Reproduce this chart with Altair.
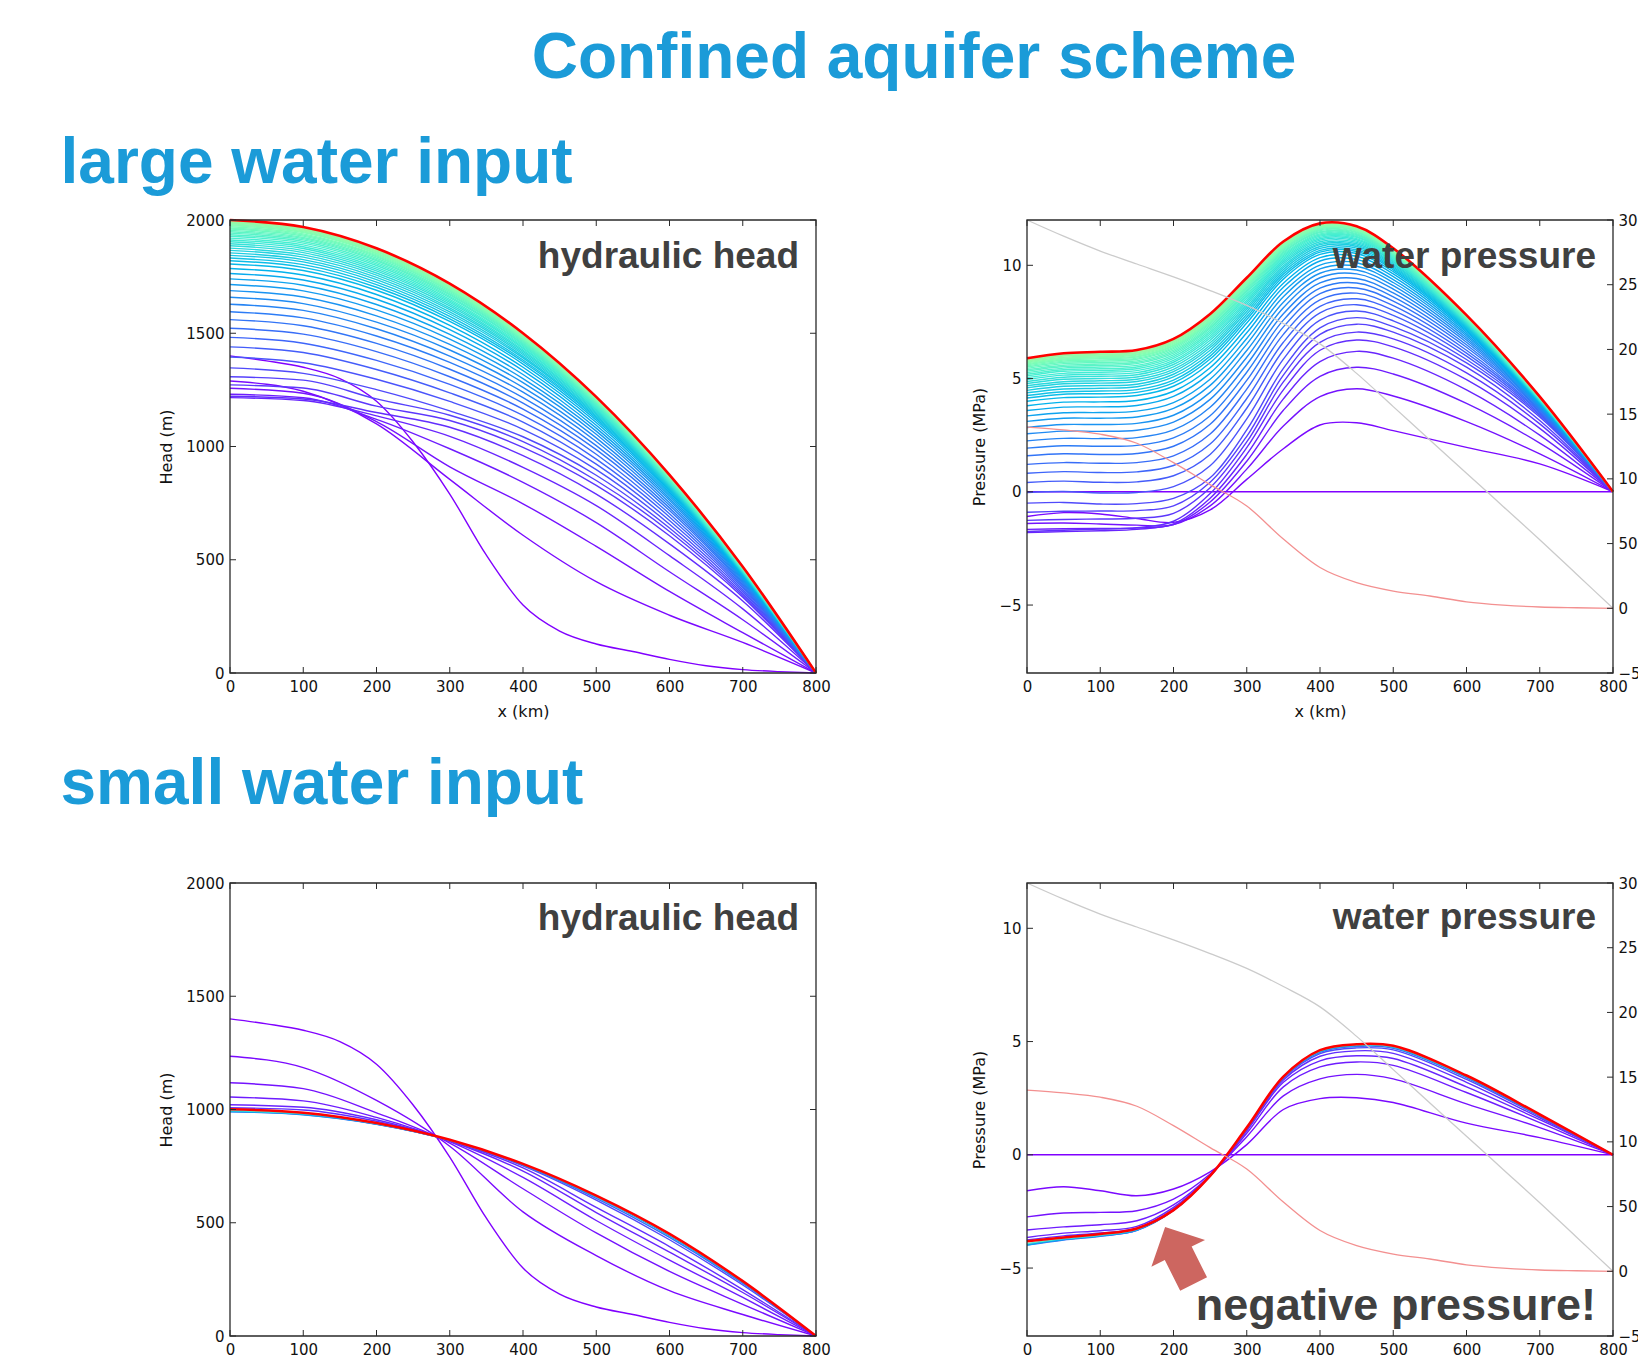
import altair as alt
import pandas as pd

# ---------------------------------------------------------------- data
HEAD_X = [0, 100, 200, 300, 400, 500, 600, 700, 800]
BED_X = [0, 50, 100, 150, 200, 250, 300, 350, 400, 450, 500, 550, 600, 650, 700, 750, 800]
PRES_X = [0, 50, 100, 150, 200, 250, 300, 350, 400, 450, 500, 600, 700, 800]

X_DOMAIN = [0, 800]
HEAD_DOMAIN = [0, 2000]
PRES_DOMAIN = [-8, 12]
ELEV_DOMAIN = [-500, 3000]
TICK_X = [0, 100, 200, 300, 400, 500, 600, 700, 800]
TICK_HEAD = [0, 500, 1000, 1500, 2000]
TICK_PRES = [-5, 0, 5, 10]
TICK_ELEV = [-500, 0, 500, 1000, 1500, 2000, 2500, 3000]

# initial head (= bed elevation) shown in the head panels
BED_HEAD = [1400, 1378, 1350, 1300, 1200, 1020, 790, 520, 300, 185, 128, 95, 60, 32, 15, 6, 0]
# bed and surface elevation (m, right axis of the pressure panels)
BED_ELEV = [1400, 1378, 1345, 1275, 1125, 955, 790, 535, 315, 198, 133, 95, 50, 25, 10, 4, 0]
SURF_ELEV = [3000, 2875, 2760, 2660, 2561, 2455, 2340, 2200, 2043, 1815, 1558, 1300, 1044, 787, 530, 265, 0]

# time-step index of each curve (colour)
K_LARGE = [1, 2, 3, 4, 5, 6, 7, 8, 9, 10, 11, 12, 13, 14, 15, 16, 17, 18, 19, 20,
           21, 22, 23, 24, 25, 26, 27, 28, 29, 30, 31, 32, 33, 34, 35, 36, 37, 38, 39, 40,
           41, 42, 43, 44, 45, 46, 47, 48, 49]
K_SMALL = [1, 2, 3, 4, 5, 8, 12, 20, 35]

# ---- large water input: hydraulic head (m) at HEAD_X
HEAD_LARGE = [
    [1289, 1244, 1100, 855, 608, 403, 255, 135, 0],
    [1257, 1235, 1110, 910, 747, 559, 360, 178, 0],
    [1231, 1215, 1120, 990, 842, 664, 447, 235, 0],
    [1216, 1203, 1135, 1045, 908, 739, 518, 283, 0],
    [1222, 1210, 1150, 1085, 960, 790, 570, 318, 0],
    [1272, 1258, 1178, 1115, 996, 828, 606, 335, 0],
    [1308, 1293, 1210, 1138, 1022, 850, 625, 343, 0],
    [1347, 1323, 1251, 1157, 1043, 873, 640, 351, 0],
    [1395, 1370, 1297, 1199, 1076, 898, 657, 360, 0],
    [1440, 1415, 1340, 1237, 1108, 922, 673, 368, 0],
    [1482, 1456, 1380, 1274, 1137, 944, 689, 376, 0],
    [1522, 1496, 1419, 1308, 1165, 966, 703, 383, 0],
    [1560, 1533, 1455, 1341, 1192, 986, 717, 390, 0],
    [1595, 1568, 1488, 1371, 1216, 1004, 729, 396, 0],
    [1628, 1601, 1520, 1399, 1240, 1022, 741, 402, 0],
    [1659, 1631, 1549, 1426, 1261, 1038, 752, 408, 0],
    [1688, 1660, 1577, 1451, 1282, 1054, 763, 413, 0],
    [1715, 1687, 1603, 1474, 1300, 1068, 772, 418, 0],
    [1740, 1712, 1627, 1495, 1318, 1081, 781, 422, 0],
    [1764, 1735, 1650, 1516, 1335, 1094, 790, 427, 0],
    [1786, 1757, 1671, 1535, 1350, 1106, 798, 430, 0],
    [1806, 1777, 1690, 1552, 1364, 1116, 805, 434, 0],
    [1820, 1791, 1703, 1564, 1374, 1124, 810, 437, 0],
    [1832, 1803, 1715, 1575, 1382, 1130, 815, 439, 0],
    [1844, 1815, 1726, 1585, 1391, 1136, 819, 441, 0],
    [1855, 1825, 1737, 1594, 1398, 1142, 823, 443, 0],
    [1866, 1836, 1747, 1604, 1406, 1148, 827, 445, 0],
    [1876, 1846, 1757, 1612, 1413, 1153, 830, 447, 0],
    [1886, 1856, 1766, 1621, 1420, 1159, 834, 448, 0],
    [1895, 1865, 1775, 1629, 1426, 1163, 837, 450, 0],
    [1904, 1874, 1783, 1636, 1433, 1168, 840, 452, 0],
    [1912, 1882, 1791, 1643, 1438, 1172, 843, 453, 0],
    [1920, 1890, 1799, 1650, 1444, 1177, 846, 455, 0],
    [1928, 1898, 1806, 1657, 1450, 1181, 849, 456, 0],
    [1935, 1905, 1813, 1663, 1454, 1185, 852, 457, 0],
    [1942, 1912, 1820, 1669, 1459, 1188, 854, 459, 0],
    [1948, 1918, 1825, 1674, 1464, 1191, 856, 460, 0],
    [1954, 1923, 1831, 1679, 1468, 1195, 858, 461, 0],
    [1960, 1929, 1837, 1685, 1472, 1198, 861, 462, 0],
    [1965, 1934, 1842, 1689, 1475, 1200, 862, 463, 0],
    [1970, 1939, 1846, 1693, 1479, 1203, 864, 464, 0],
    [1975, 1944, 1851, 1697, 1482, 1206, 866, 464, 0],
    [1979, 1948, 1855, 1701, 1485, 1208, 867, 465, 0],
    [1983, 1952, 1859, 1704, 1488, 1210, 869, 466, 0],
    [1987, 1956, 1863, 1708, 1491, 1212, 870, 467, 0],
    [1990, 1959, 1865, 1710, 1493, 1214, 871, 467, 0],
    [1993, 1962, 1868, 1713, 1495, 1215, 872, 468, 0],
    [1996, 1965, 1871, 1716, 1497, 1217, 874, 468, 0],
    [1998, 1967, 1873, 1717, 1499, 1218, 874, 469, 0],
]
HEAD_LARGE_FINAL = [2000, 1969, 1875, 1719, 1500, 1219, 875, 469, 0]

# ---- large water input: water pressure (MPa) at PRES_X
PRES_INIT = [0, 0, 0, 0, 0, 0, 0, 0, 0, 0, 0, 0, 0, 0]
PRES_LARGE = [
    [-1.09, -0.92, -0.98, -1.18, -1.35, -0.80, 0.55, 1.90, 2.95, 3.05, 2.70, 1.96, 1.23, 0],
    [-1.40, -1.38, -1.42, -1.47, -1.45, -0.62, 1.00, 2.90, 4.20, 4.55, 4.23, 3.10, 1.67, 0],
    [-1.66, -1.63, -1.62, -1.60, -1.45, -0.45, 1.35, 3.60, 5.10, 5.50, 5.20, 3.90, 2.15, 0],
    [-1.80, -1.76, -1.72, -1.66, -1.42, -0.28, 1.65, 4.10, 5.75, 6.20, 5.90, 4.50, 2.50, 0],
    [-1.75, -1.70, -1.64, -1.58, -1.30, -0.08, 1.95, 4.50, 6.25, 6.70, 6.40, 4.95, 2.80, 0],
    [-1.26, -1.22, -1.20, -1.17, -0.95, 0.18, 2.20, 4.85, 6.60, 7.05, 6.75, 5.25, 3.00, 0],
    [-0.90, -0.86, -0.85, -0.83, -0.62, 0.42, 2.45, 5.15, 6.95, 7.40, 7.05, 5.50, 3.15, 0],
    [-0.50, -0.47, -0.54, -0.52, -0.29, 0.62, 2.73, 5.45, 7.24, 7.69, 7.29, 5.69, 3.30, 0],
    [-0.03, 0.01, -0.05, -0.03, 0.23, 1.15, 3.22, 5.86, 7.58, 7.98, 7.55, 5.84, 3.37, 0],
    [0.41, 0.47, 0.42, 0.44, 0.71, 1.65, 3.69, 6.25, 7.90, 8.26, 7.79, 5.99, 3.43, 0],
    [0.82, 0.89, 0.85, 0.88, 1.16, 2.11, 4.12, 6.60, 8.19, 8.52, 8.01, 6.12, 3.49, 0],
    [1.21, 1.29, 1.26, 1.29, 1.59, 2.55, 4.53, 6.95, 8.47, 8.77, 8.22, 6.25, 3.54, 0],
    [1.59, 1.68, 1.65, 1.69, 2.01, 2.98, 4.92, 7.28, 8.75, 9.00, 8.42, 6.38, 3.60, 0],
    [1.93, 2.03, 2.01, 2.05, 2.38, 3.36, 5.28, 7.58, 8.99, 9.22, 8.61, 6.49, 3.64, 0],
    [2.25, 2.36, 2.35, 2.39, 2.73, 3.73, 5.62, 7.86, 9.22, 9.42, 8.78, 6.60, 3.69, 0],
    [2.56, 2.68, 2.67, 2.72, 3.08, 4.08, 5.94, 8.13, 9.45, 9.62, 8.95, 6.70, 3.73, 0],
    [2.84, 2.97, 2.97, 3.02, 3.38, 4.39, 6.24, 8.37, 9.65, 9.79, 9.10, 6.79, 3.77, 0],
    [3.11, 3.25, 3.25, 3.30, 3.68, 4.70, 6.52, 8.61, 9.84, 9.96, 9.24, 6.88, 3.81, 0],
    [3.35, 3.49, 3.50, 3.56, 3.94, 4.97, 6.77, 8.82, 10.01, 10.11, 9.37, 6.96, 3.84, 0],
    [3.59, 3.74, 3.75, 3.81, 4.21, 5.24, 7.02, 9.03, 10.19, 10.26, 9.50, 7.04, 3.88, 0],
    [3.80, 3.96, 3.97, 4.03, 4.44, 5.48, 7.24, 9.21, 10.34, 10.40, 9.62, 7.11, 3.91, 0],
    [4.00, 4.16, 4.18, 4.25, 4.66, 5.70, 7.45, 9.39, 10.48, 10.52, 9.72, 7.17, 3.93, 0],
    [4.14, 4.31, 4.33, 4.39, 4.81, 5.86, 7.60, 9.51, 10.58, 10.61, 9.80, 7.22, 3.95, 0],
    [4.25, 4.42, 4.45, 4.51, 4.93, 5.99, 7.72, 9.61, 10.66, 10.68, 9.86, 7.26, 3.97, 0],
    [4.37, 4.54, 4.57, 4.64, 5.07, 6.12, 7.84, 9.71, 10.75, 10.76, 9.92, 7.30, 3.99, 0],
    [4.48, 4.66, 4.69, 4.75, 5.19, 6.25, 7.96, 9.81, 10.83, 10.83, 9.98, 7.33, 4.00, 0],
    [4.59, 4.77, 4.80, 4.87, 5.31, 6.37, 8.07, 9.90, 10.91, 10.89, 10.04, 7.37, 4.02, 0],
    [4.68, 4.86, 4.90, 4.97, 5.41, 6.47, 8.17, 9.98, 10.97, 10.95, 10.09, 7.40, 4.03, 0],
    [4.78, 4.97, 5.00, 5.07, 5.52, 6.58, 8.27, 10.07, 11.04, 11.01, 10.15, 7.43, 4.04, 0],
    [4.87, 5.06, 5.10, 5.17, 5.62, 6.69, 8.37, 10.15, 11.11, 11.07, 10.19, 7.46, 4.06, 0],
    [4.96, 5.15, 5.19, 5.26, 5.72, 6.79, 8.46, 10.23, 11.17, 11.13, 10.24, 7.49, 4.07, 0],
    [5.04, 5.23, 5.28, 5.35, 5.80, 6.88, 8.55, 10.30, 11.23, 11.18, 10.29, 7.52, 4.08, 0],
    [5.12, 5.32, 5.36, 5.43, 5.89, 6.97, 8.63, 10.37, 11.29, 11.23, 10.33, 7.54, 4.09, 0],
    [5.19, 5.39, 5.43, 5.51, 5.97, 7.05, 8.70, 10.43, 11.34, 11.27, 10.37, 7.57, 4.10, 0],
    [5.26, 5.46, 5.51, 5.58, 6.05, 7.13, 8.78, 10.49, 11.39, 11.32, 10.40, 7.59, 4.11, 0],
    [5.33, 5.53, 5.58, 5.66, 6.12, 7.21, 8.85, 10.55, 11.44, 11.36, 10.44, 7.61, 4.12, 0],
    [5.39, 5.59, 5.64, 5.72, 6.19, 7.27, 8.91, 10.60, 11.48, 11.40, 10.47, 7.63, 4.13, 0],
    [5.45, 5.66, 5.71, 5.78, 6.25, 7.34, 8.98, 10.66, 11.53, 11.44, 10.51, 7.65, 4.14, 0],
    [5.51, 5.72, 5.77, 5.85, 6.32, 7.41, 9.04, 10.71, 11.57, 11.47, 10.54, 7.67, 4.15, 0],
    [5.56, 5.77, 5.82, 5.90, 6.38, 7.47, 9.09, 10.75, 11.61, 11.51, 10.57, 7.69, 4.15, 0],
    [5.61, 5.82, 5.88, 5.95, 6.43, 7.52, 9.15, 10.80, 11.64, 11.54, 10.59, 7.70, 4.16, 0],
    [5.65, 5.86, 5.92, 5.99, 6.47, 7.57, 9.19, 10.83, 11.67, 11.56, 10.61, 7.72, 4.16, 0],
    [5.69, 5.90, 5.96, 6.04, 6.52, 7.61, 9.23, 10.87, 11.70, 11.59, 10.64, 7.73, 4.17, 0],
    [5.73, 5.94, 6.00, 6.08, 6.56, 7.66, 9.27, 10.90, 11.73, 11.61, 10.66, 7.74, 4.18, 0],
    [5.77, 5.99, 6.04, 6.12, 6.61, 7.70, 9.31, 10.94, 11.76, 11.64, 10.68, 7.76, 4.18, 0],
    [5.80, 6.02, 6.07, 6.15, 6.64, 7.74, 9.34, 10.96, 11.78, 11.66, 10.70, 7.77, 4.19, 0],
    [5.83, 6.05, 6.11, 6.19, 6.67, 7.77, 9.38, 10.99, 11.80, 11.68, 10.71, 7.78, 4.19, 0],
    [5.86, 6.08, 6.14, 6.22, 6.71, 7.80, 9.41, 11.01, 11.82, 11.69, 10.73, 7.79, 4.19, 0],
    [5.88, 6.10, 6.16, 6.24, 6.73, 7.83, 9.43, 11.03, 11.84, 11.71, 10.74, 7.79, 4.20, 0],
]
PRES_LARGE_FINAL = [5.90, 6.12, 6.18, 6.26, 6.75, 7.85, 9.45, 11.05, 11.85, 11.72, 10.75, 7.80, 4.20, 0]

# ---- small water input
HEAD_SMALL = [
    [1235, 1185, 1040, 838, 548, 355, 200, 95, 0],
    [1118, 1092, 985, 852, 650, 455, 285, 140, 0],
    [1055, 1038, 965, 858, 700, 510, 335, 170, 0],
    [1021, 1010, 955, 861, 728, 545, 370, 192, 0],
    [1008, 998, 948, 862, 742, 568, 395, 205, 0],
    [992, 979, 936, 864, 751, 600, 425, 225, 0],
    [990, 977, 935, 864, 755, 608, 435, 232, 0],
    [991, 978, 936, 865, 757, 614, 442, 236, 0],
    [995, 982, 938, 865, 759, 618, 448, 240, 0],
]
HEAD_SMALL_FINAL = [1001, 986, 940, 866, 760, 620, 451, 242, 0]

PRES_SMALL = [
    [-1.59, -1.41, -1.59, -1.81, -1.51, -0.75, 0.45, 2.00, 2.48, 2.52, 2.31, 1.40, 0.76, 0],
    [-2.74, -2.57, -2.54, -2.47, -1.96, -0.85, 0.80, 2.60, 3.35, 3.55, 3.35, 2.25, 1.20, 0],
    [-3.32, -3.18, -3.09, -2.91, -2.21, -0.90, 0.95, 3.00, 3.88, 4.10, 3.95, 2.75, 1.42, 0],
    [-3.65, -3.46, -3.35, -3.16, -2.32, -0.92, 1.05, 3.20, 4.15, 4.37, 4.25, 3.00, 1.55, 0],
    [-3.76, -3.58, -3.45, -3.24, -2.38, -0.93, 1.10, 3.30, 4.35, 4.59, 4.48, 3.20, 1.63, 0],
    [-3.95, -3.72, -3.58, -3.33, -2.45, -0.94, 1.15, 3.37, 4.47, 4.72, 4.63, 3.33, 1.69, 0],
    [-3.99, -3.76, -3.60, -3.34, -2.46, -0.94, 1.16, 3.40, 4.52, 4.78, 4.70, 3.40, 1.72, 0],
    [-3.98, -3.74, -3.58, -3.32, -2.45, -0.93, 1.17, 3.42, 4.56, 4.82, 4.75, 3.44, 1.74, 0],
    [-3.92, -3.70, -3.54, -3.29, -2.45, -0.93, 1.18, 3.44, 4.59, 4.85, 4.78, 3.47, 1.76, 0],
]
PRES_SMALL_FINAL = [-3.82, -3.65, -3.50, -3.25, -2.44, -0.93, 1.20, 3.45, 4.62, 4.88, 4.81, 3.50, 1.78, 0]

# annotation arrow position (x km, pressure MPa)
ARROW_AT = [208, -4.45]

# ---------------------------------------------------------------- layout / style
W, H = 586, 453          # each plot area
GAP_X, GAP_Y = 211, 210  # gaps between plot areas
TW, TH = 2 * W + GAP_X, 2 * H + GAP_Y
PAD = {"left": 222, "top": 212, "right": 1630 - 222 - TW, "bottom": 1358 - 212 - TH}
BLUE = "#1b9bd8"
DARK = "#404040"
FRAME = "#2a2a2a"
RAINBOW = ["#8000ff", "#4062fa", "#00b4ec", "#40ecd4", "#80ffb4",
           "#bfec8e", "#ffb462", "#ff6232", "#ff0000"]
K_STOPS = [0, 10.625, 21.25, 31.875, 42.5, 53.125, 63.75, 74.375, 85]
COLOR = alt.Scale(domain=K_STOPS, range=RAINBOW, interpolate="rgb")
ARROW_PATH = "M0,-1 L0.942,-0.08 L0.471,-0.08 L0.471,1 L-0.471,1 L-0.471,-0.08 L-0.942,-0.08 Z"
TICK_LEN = 6


def long_table(xs_list, ys_list, ks):
    rows = []
    for i, (xs, ys, k) in enumerate(zip(xs_list, ys_list, ks)):
        for x, y in zip(xs, ys):
            rows.append({"x": x, "y": y, "k": k, "id": f"c{i:03d}"})
    return pd.DataFrame(rows)


def xscale(x0):
    return alt.Scale(domain=X_DOMAIN, range=[x0, x0 + W], nice=False, zero=False)


def yscale(dom, y0):
    return alt.Scale(domain=dom, range=[y0 + H, y0], nice=False, zero=False)


def label(text, x, y, size, color=DARK, align="right"):
    return alt.Chart(pd.DataFrame({"t": [text]})).mark_text(
        align=align, baseline="alphabetic", font="Liberation Sans", fontWeight="bold",
        fontSize=size, color=color).encode(text="t:N", x=alt.value(x), y=alt.value(y))


def frame_and_ticks(x0, y0, xs, ys, y_ticks, right=True, ys_right=None, right_ticks=None):
    out = []
    dx = pd.DataFrame({"v": TICK_X})
    out.append(alt.Chart(dx).mark_rule(color=FRAME, strokeWidth=1).encode(
        x=alt.X("v:Q", scale=xs, axis=None), y=alt.value(y0), y2=alt.value(y0 + TICK_LEN)))
    out.append(alt.Chart(dx).mark_rule(color=FRAME, strokeWidth=1).encode(
        x=alt.X("v:Q", scale=xs, axis=None), y=alt.value(y0 + H), y2=alt.value(y0 + H - TICK_LEN)))
    dy = pd.DataFrame({"v": y_ticks})
    out.append(alt.Chart(dy).mark_rule(color=FRAME, strokeWidth=1).encode(
        y=alt.Y("v:Q", scale=ys, axis=None), x=alt.value(x0), x2=alt.value(x0 + TICK_LEN)))
    if right:
        out.append(alt.Chart(dy).mark_rule(color=FRAME, strokeWidth=1).encode(
            y=alt.Y("v:Q", scale=ys, axis=None), x=alt.value(x0 + W), x2=alt.value(x0 + W - TICK_LEN)))
    if ys_right is not None:
        dr = pd.DataFrame({"v": right_ticks})
        out.append(alt.Chart(dr).mark_rule(color=FRAME, strokeWidth=1).encode(
            y=alt.Y("v:Q", scale=ys_right, axis=None), x=alt.value(x0 + W), x2=alt.value(x0 + W - TICK_LEN)))
    fr = pd.DataFrame({"x1": [X_DOMAIN[0]], "x2": [X_DOMAIN[1]],
                       "y1": [ys.domain[0]], "y2": [ys.domain[1]]})
    out.append(alt.Chart(fr).mark_rect(filled=False, color=FRAME, strokeWidth=1.3).encode(
        x=alt.X("x1:Q", scale=xs, axis=None), x2="x2:Q",
        y=alt.Y("y1:Q", scale=ys, axis=None), y2="y2:Q"))
    return out


def x_axis(y0):
    return alt.Axis(orient="bottom", offset=-(TH - y0 - H), values=TICK_X, format="d", title="x (km)")


def head_panel(x0, y0, table, final_ys, label_y):
    xs = xscale(x0)
    ys = yscale(HEAD_DOMAIN, y0)
    fam = alt.Chart(table).mark_line(interpolate="monotone", strokeWidth=1.4).encode(
        x=alt.X("x:Q", scale=xs, axis=x_axis(y0)),
        y=alt.Y("y:Q", scale=ys, axis=alt.Axis(orient="left", offset=-x0, values=TICK_HEAD,
                                               format="d", title="Head (m)")),
        color=alt.Color("k:Q", scale=COLOR, legend=None),
        detail="id:N",
    )
    fin = alt.Chart(pd.DataFrame({"x": HEAD_X, "y": final_ys})).mark_line(
        interpolate="monotone", strokeWidth=2.6, color="#ff0000").encode(
        x=alt.X("x:Q", scale=xs, axis=None), y=alt.Y("y:Q", scale=ys, axis=None))
    return [fam, fin] + frame_and_ticks(x0, y0, xs, ys, TICK_HEAD) + \
        [label("hydraulic head", x0 + W - 17, y0 + label_y, 37)]


def pres_panel(x0, y0, table, final_ys, label_y, with_arrow=False):
    xs = xscale(x0)
    ps = yscale(PRES_DOMAIN, y0)
    es = yscale(ELEV_DOMAIN, y0)
    fam = alt.Chart(table).mark_line(interpolate="catmull-rom", strokeWidth=1.4).encode(
        x=alt.X("x:Q", scale=xs, axis=x_axis(y0)),
        y=alt.Y("y:Q", scale=ps, axis=alt.Axis(orient="left", offset=-x0, values=TICK_PRES,
                                               format="d", title="Pressure (MPa)")),
        color=alt.Color("k:Q", scale=COLOR, legend=None),
        detail="id:N",
    )
    fin = alt.Chart(pd.DataFrame({"x": PRES_X, "y": final_ys})).mark_line(
        interpolate="catmull-rom", strokeWidth=2.6, color="#ff0000").encode(
        x=alt.X("x:Q", scale=xs, axis=None), y=alt.Y("y:Q", scale=ps, axis=None))
    gd = pd.DataFrame({"x": BED_X, "surf": SURF_ELEV, "bed": BED_ELEV})
    surf = alt.Chart(gd).mark_line(color="#cbcbcb", strokeWidth=1.3, interpolate="monotone").encode(
        x=alt.X("x:Q", scale=xs, axis=None),
        y=alt.Y("surf:Q", scale=es, axis=alt.Axis(orient="right", offset=-(TW - x0 - W),
                                                  values=TICK_ELEV, format="d", title=None,
                                                  labelPadding=5)))
    bed = alt.Chart(gd).mark_line(color="#f39090", strokeWidth=1.3, interpolate="monotone").encode(
        x=alt.X("x:Q", scale=xs, axis=None), y=alt.Y("bed:Q", scale=es, axis=None))
    layers = [fam, fin]
    if with_arrow:
        layers.append(alt.Chart(pd.DataFrame({"x": [ARROW_AT[0]], "y": [ARROW_AT[1]]})).mark_point(
            shape=ARROW_PATH, size=4058, angle=333.4, filled=True, color="#cd6660",
            opacity=1, strokeWidth=0).encode(
            x=alt.X("x:Q", scale=xs, axis=None), y=alt.Y("y:Q", scale=ps, axis=None)))
    layers += [surf, bed]
    layers += frame_and_ticks(x0, y0, xs, ps, TICK_PRES, right=False,
                              ys_right=es, right_ticks=TICK_ELEV)
    layers.append(label("water pressure", x0 + W - 17, y0 + label_y, 37))
    return layers


# ---------------------------------------------------------------- tables
n_large = len(HEAD_LARGE)
head_large = long_table([BED_X] + [HEAD_X] * n_large, [BED_HEAD] + HEAD_LARGE, [0] + K_LARGE)
pres_large = long_table([PRES_X] * (n_large + 1), [PRES_INIT] + PRES_LARGE, [0] + K_LARGE)
n_small = len(HEAD_SMALL)
head_small = long_table([BED_X] + [HEAD_X] * n_small, [BED_HEAD] + HEAD_SMALL, [0] + K_SMALL)
pres_small = long_table([PRES_X] * (n_small + 1), [PRES_INIT] + PRES_SMALL, [0] + K_SMALL)

XR = W + GAP_X
YB = H + GAP_Y
layers = []
layers += head_panel(0, 0, head_large, HEAD_LARGE_FINAL, 48)
layers += pres_panel(XR, 0, pres_large, PRES_LARGE_FINAL, 48)
layers += head_panel(0, YB, head_small, HEAD_SMALL_FINAL, 47)
layers += pres_panel(XR, YB, pres_small, PRES_SMALL_FINAL, 46, with_arrow=True)
layers += [
    label("negative pressure!", XR + W - 17, YB + 437, 45),
    label("Confined aquifer scheme", 684, -142, 64, BLUE, "center"),
    label("large water input", -169.5, -37, 64, BLUE, "left"),
    label("small water input", -169.5, 584, 64, BLUE, "left"),
]

chart = alt.layer(*layers).resolve_scale(
    x="independent", y="independent", color="independent"
).properties(
    width=TW, height=TH,
    autosize=alt.AutoSizeParams(type="none"),
    padding=PAD,
    background="white",
).configure_view(
    strokeWidth=0
).configure_axis(
    ticks=False, domain=False, grid=False,
    labelFont="DejaVu Sans", labelFontSize=15, labelColor="#111111",
    titleFont="DejaVu Sans", titleFontSize=16, titleFontWeight="normal", titleColor="#111111",
    labelFlush=False, labelOverlap=False, labelPadding=6,
).configure_axisX(titlePadding=9).configure_axisY(titlePadding=11)

chart.save("out.html", embed_options={"renderer": "svg", "actions": False})
